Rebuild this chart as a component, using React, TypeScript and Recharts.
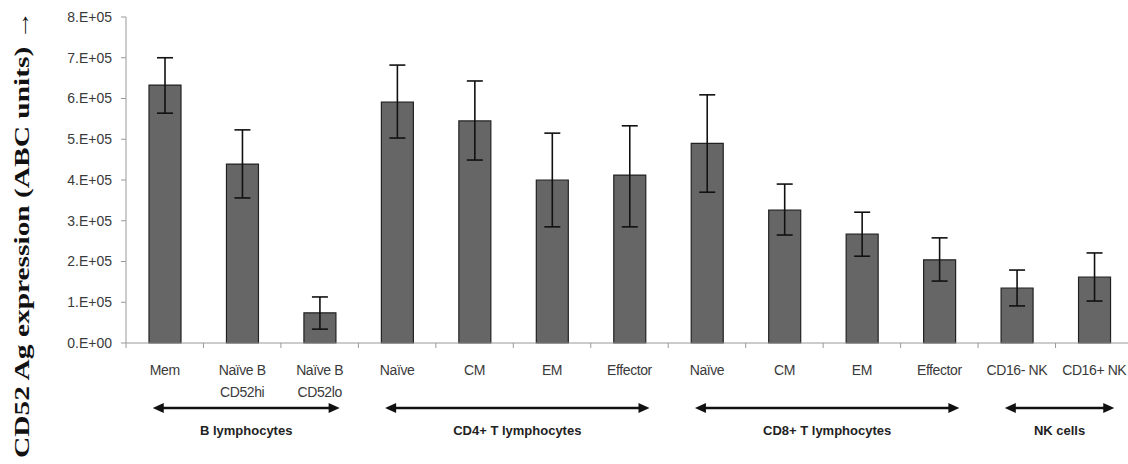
import { BarChart, Bar, XAxis, YAxis, ErrorBar } from 'recharts';

const categoryLabels: string[][] = [
  ['Mem'],
  ['Naïve B', 'CD52hi'],
  ['Naïve B', 'CD52lo'],
  ['Naïve'],
  ['CM'],
  ['EM'],
  ['Effector'],
  ['Naïve'],
  ['CM'],
  ['EM'],
  ['Effector'],
  ['CD16- NK'],
  ['CD16+ NK'],
];

const values = [633000, 439000, 74000, 591000, 545000, 400000, 412000, 490000, 326000, 267000, 204000, 135000, 162000];
const upperBounds = [700000, 523000, 113000, 682000, 643000, 515000, 533000, 609000, 390000, 321000, 258000, 179000, 221000];
const lowerBounds = [564000, 356000, 34000, 503000, 449000, 285000, 285000, 370000, 265000, 213000, 152000, 91000, 103000];

const groupNames = ['B lymphocytes', 'CD4+ T lymphocytes', 'CD8+ T lymphocytes', 'NK cells'];
const groupSizes = [3, 4, 4, 2];

const yTicks = [0, 100000, 200000, 300000, 400000, 500000, 600000, 700000, 800000];

const CHART_W = 1136;
const Y_AXIS_W = 126;
const RIGHT = 3;
const BAND = (CHART_W - Y_AXIS_W - RIGHT) / categoryLabels.length;

const data = categoryLabels.map((_, i) => ({
  id: `c${i}`,
  value: values[i],
  err: [values[i] - lowerBounds[i], upperBounds[i] - values[i]],
}));

// first category index of each group
const groupStarts = groupSizes.map((_, g) => groupSizes.slice(0, g).reduce((a, b) => a + b, 0));

function Arrow({ x1, x2, y }: { x1: number; x2: number; y: number }) {
  return (
    <g>
      <line x1={x1 + 8} x2={x2 - 8} y1={y} y2={y} stroke="#111" strokeWidth={2.5} />
      <polygon points={`${x1},${y} ${x1 + 11},${y - 5} ${x1 + 11},${y + 5}`} fill="#111" />
      <polygon points={`${x2},${y} ${x2 - 11},${y - 5} ${x2 - 11},${y + 5}`} fill="#111" />
    </g>
  );
}

function CategoryTick(props: any) {
  const { x, y, payload } = props;
  const i = payload.index;
  const lines = categoryLabels[i];
  const g = groupStarts.indexOf(i);
  let group = null;
  if (g >= 0) {
    const left = x - 12;
    const right = x + (groupSizes[g] - 1) * BAND + 20;
    group = (
      <g>
        <Arrow x1={left} x2={right} y={y + 65} />
        <text x={(left + right) / 2} y={y + 92} textAnchor="middle" fontSize={13} fontWeight="bold" fill="#222"
          fontFamily="Liberation Sans, Arial, sans-serif">
          {groupNames[g]}
        </text>
      </g>
    );
  }
  return (
    <g>
      <line x1={x + BAND / 2} x2={x + BAND / 2} y1={y} y2={y + 5} stroke="#999" />
      {i === 0 && <line x1={x - BAND / 2} x2={x - BAND / 2} y1={y} y2={y + 5} stroke="#999" />}
      {lines.map((t, k) => (
        <text key={k} x={x} y={y + 32 + k * 22} textAnchor="middle" fontSize={14} letterSpacing={-0.4} fill="#3a3a3a"
          fontFamily="Liberation Sans, Arial, sans-serif">
          {t}
        </text>
      ))}
      {group}
    </g>
  );
}

const fmtY = (v: number) => (v === 0 ? '0.E+00' : `${v / 100000}.E+05`);

export default function App() {
  return (
    <div style={{ position: 'absolute', left: 0, top: 0, width: 1128, height: 464, overflow: 'hidden', background: '#fff' }}>
      <svg width={40} height={464} style={{ position: 'absolute', left: 0, top: 0 }}>
        <text
          x={29}
          y={234}
          transform="rotate(-90, 29, 234)"
          textAnchor="middle"
          fontSize={22}
          fontWeight="bold"
          fontFamily="Liberation Serif, Times New Roman, serif"
          fill="#111"
          textLength={448}
          lengthAdjust="spacingAndGlyphs"
        >
          CD52 Ag expression (ABC units) →
        </text>
      </svg>
      <div style={{ position: 'absolute', left: 0, top: 0 }}>
        <BarChart width={CHART_W} height={464} data={data} margin={{ top: 17, right: RIGHT, left: 0, bottom: 6 }} barSize={32}>
          <XAxis
            dataKey="id"
            interval={0}
            height={115}
            tickSize={0}
            tickMargin={0}
            tick={<CategoryTick />}
            stroke="#999"
            tickLine={false}
          />
          <YAxis
            width={Y_AXIS_W}
            domain={[0, 800000]}
            ticks={yTicks}
            tickFormatter={fmtY}
            tickSize={5}
            tickMargin={9}
            stroke="#999"
            tick={{ fontSize: 14, fill: '#3a3a3a', fontFamily: 'Liberation Sans, Arial, sans-serif' }}
          />
          <Bar dataKey="value" fill="#666" stroke="#222" strokeWidth={1.2} isAnimationActive={false}>
            <ErrorBar dataKey="err" width={8} stroke="#111" strokeWidth={1.6} isAnimationActive={false} />
          </Bar>
        </BarChart>
      </div>
    </div>
  );
}
